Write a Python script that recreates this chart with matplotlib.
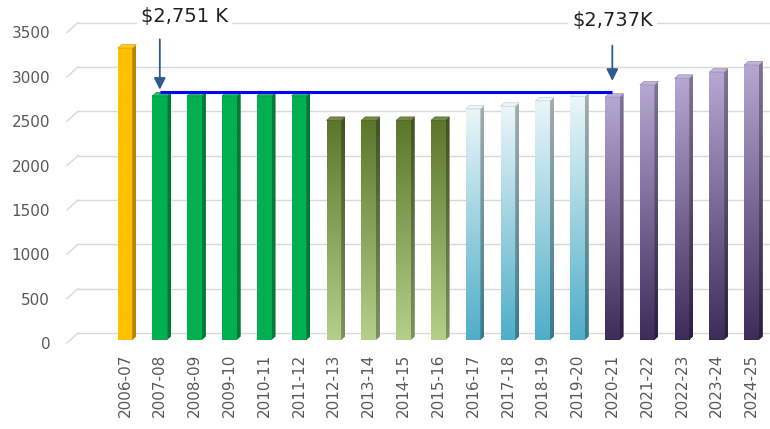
import matplotlib
matplotlib.use("Agg")
import matplotlib.pyplot as plt
import matplotlib.transforms as mtransforms
import numpy as np
from matplotlib.patches import Polygon
from matplotlib.colors import to_rgb

categories = ["2006-07", "2007-08", "2008-09", "2009-10", "2010-11", "2011-12",
              "2012-13", "2013-14", "2014-15", "2015-16", "2016-17", "2017-18",
              "2018-19", "2019-20", "2020-21", "2021-22", "2022-23", "2023-24", "2024-25"]
values = [3290, 2751, 2751, 2751, 2751, 2751,
          2475, 2475, 2475, 2475, 2605, 2635, 2695, 2745,
          2737, 2875, 2950, 3020, 3100]
groups = [0, 1, 1, 1, 1, 1, 2, 2, 2, 2, 3, 3, 3, 3, 4, 4, 4, 4, 4]
yticks = [0, 500, 1000, 1500, 2000, 2500, 3000, 3500]
ref_start, ref_end = 1, 14
ref_value = 2751
labels = ["$2,751 K", "$2,737K"]

# (top colour, bottom colour) of each group's front face
group_colors = [
    ("#FFC000", "#FFC000"),
    ("#00B050", "#00B050"),
    ("#5C772C", "#B3CF8A"),
    ("#EAF6F9", "#4FAEC8"),
    ("#B6A6D2", "#3E2C5A"),
]

W, H = 770, 429
fig = plt.figure(figsize=(W / 100, H / 100), dpi=100)
L, R, B, T = 78, 770, 340, 29.5
ax = fig.add_axes([L / W, 1 - B / H, (R - L) / W, (B - T) / H])
xmin, xmax = -1.35, 18.53
ax.set_xlim(xmin, xmax)
ax.set_ylim(0, 3500)
px_x = (R - L) / (xmax - xmin)
px_y = (B - T) / 3500.0

bw = 0.42
dx = 4 / px_x
dy = 3.5 / px_y
gy = 7 / px_y   # gridlines sit on the back wall

for y in yticks:
    ax.plot([xmin, xmax], [y + gy, y + gy], color="#D9D9D9", lw=1,
            clip_on=False, zorder=0)
    ax.plot([xmin, xmin - 11 / px_x], [y + gy, y - 3 / px_y], color="#D9D9D9", lw=1,
            clip_on=False, zorder=0)


def darker(c, f):
    r = np.array(to_rgb(c))
    return tuple(r * f)


def lighter(c, f):
    r = np.array(to_rgb(c))
    return tuple(r + (1 - r) * f)


def grad(c_top, c_bot, n=64):
    a = np.array(to_rgb(c_top))
    b = np.array(to_rgb(c_bot))
    t = np.linspace(0, 1, n)[:, None]
    return (a * (1 - t) + b * t)[:, None, :]


for i, (v, g) in enumerate(zip(values, groups)):
    ct, cb = group_colors[g]
    x0, x1 = i - bw / 2, i + bw / 2
    im = ax.imshow(grad(ct, cb), extent=(x0, x1, 0, v), origin="upper",
                   aspect="auto", zorder=2, interpolation="bilinear")
    side = Polygon([(x1, 0), (x1 + dx, dy), (x1 + dx, v + dy), (x1, v)],
                   closed=True, facecolor="none", edgecolor="none")
    ax.add_patch(side)
    ims = ax.imshow(grad(darker(ct, 0.7), darker(cb, 0.7)),
                    extent=(x1, x1 + dx, 0, v + dy), origin="upper",
                    aspect="auto", zorder=2, interpolation="bilinear")
    ims.set_clip_path(side)
    top = Polygon([(x0, v), (x1, v), (x1 + dx, v + dy), (x0 + dx, v + dy)],
                  closed=True, facecolor=lighter(ct, 0.15),
                  edgecolor=darker(ct, 0.85), lw=0.5, zorder=3)
    ax.add_patch(top)

ax.set_xlim(xmin, xmax)
ax.set_ylim(0, 3500)

# reference line
ax.plot([ref_start, ref_end], [ref_value + dy, ref_value + dy], color="#0000FF",
        lw=2.2, zorder=5, solid_capstyle="butt")

arrow_kw = dict(arrowstyle="-|>,head_length=0.7,head_width=0.35",
                color="#2F5A8C", lw=1.3)
ax.annotate("", xy=(ref_start, ref_value + dy), xytext=(ref_start, 3420),
            arrowprops=arrow_kw, zorder=6, annotation_clip=False)
ax.annotate("", xy=(ref_end, 2890), xytext=(ref_end, 3350),
            arrowprops=arrow_kw, zorder=6, annotation_clip=False)

ax.text(ref_start + 0.72, 3650, labels[0], ha="center", va="center", fontsize=14,
        color="#222222", zorder=7,
        bbox=dict(facecolor="white", edgecolor="none", pad=3))
ax.text(ref_end, 3605, labels[1], ha="center", va="center", fontsize=14,
        color="#222222", zorder=7,
        bbox=dict(facecolor="white", edgecolor="none", pad=3))

ax.set_yticks(yticks)
ax.set_yticklabels([str(y) for y in yticks])
ax.set_xticks(range(len(categories)))
ax.set_xticklabels(categories, rotation=90)
ax.tick_params(axis="y", length=0, pad=20, labelsize=11, labelcolor="#595959")
ax.tick_params(axis="x", length=0, pad=10, labelsize=11, labelcolor="#595959")
shift = mtransforms.ScaledTranslation(0, -3 / 100, fig.dpi_scale_trans)
for lab in ax.get_yticklabels():
    lab.set_transform(lab.get_transform() + shift)
for s in ax.spines.values():
    s.set_visible(False)
ax.set_facecolor("none")

fig.savefig("out.png", dpi=100)
